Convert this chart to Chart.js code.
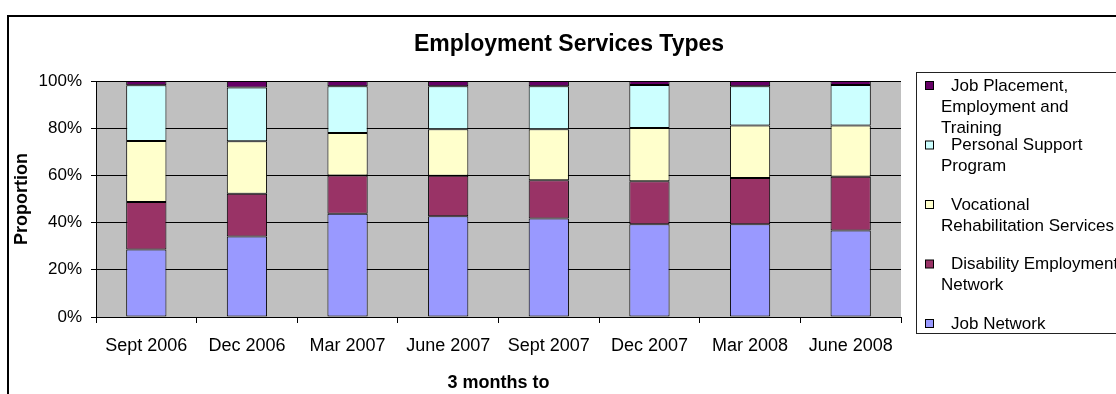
<!DOCTYPE html>
<html>
<head>
<meta charset="utf-8">
<script src="https://cdn.jsdelivr.net/npm/chart.js@4.4.1/dist/chart.umd.min.js"></script>
<style>
  html, body { margin: 0; padding: 0; background: #fff; }
  #wrap { width: 1116px; height: 394px; }
</style>
</head>
<body>
<div id="wrap"><canvas id="servicesChart" width="1116" height="394"></canvas></div>
<script>
// quarters along the x axis
const quarters = ["Sept 2006", "Dec 2006", "Mar 2007", "June 2007", "Sept 2007", "Dec 2007", "Mar 2008", "June 2008"];

// share of each service type (%)
const jobNetwork = [28.6, 34.1, 43.8, 42.7, 41.7, 39.3, 39.3, 36.6];
const disabilityEmployment = [20.1, 18.1, 16.2, 17.2, 16.2, 18.2, 19.6, 22.8];
const vocationalRehab = [25.9, 22.3, 18.0, 19.7, 21.7, 22.6, 22.2, 21.7];
const personalSupport = [23.6, 22.7, 19.8, 18.2, 18.2, 18.2, 16.7, 17.2];
const jobPlacement = [1.8, 2.8, 2.2, 2.2, 2.2, 1.7, 2.2, 1.7];

const seriesNames = [
  "Job Network",
  "Disability Employment Network",
  "Vocational Rehabilitation Services",
  "Personal Support Program",
  "Job Placement, Employment and Training",
];
const seriesColors = ["#9999FF", "#993366", "#FFFFCC", "#CCFFFF", "#660066"];
const yTicks = [0, 20, 40, 60, 80, 100];

const FONT = "'Liberation Sans', Arial, sans-serif";

const allSeries = [jobNetwork, disabilityEmployment, vocationalRehab, personalSupport, jobPlacement];

// grey plot area like the Excel original
const plotBackground = {
  id: "plotBackground",
  beforeDraw(chart) {
    const { ctx, chartArea: a } = chart;
    ctx.save();
    ctx.fillStyle = "#C0C0C0";
    ctx.fillRect(a.left, a.top, a.right - a.left, a.bottom - a.top);
    ctx.restore();
  },
};

// frame, title and the wrapped legend on the right
const decorations = {
  id: "decorations",
  afterDraw(chart) {
    const ctx = chart.ctx;
    ctx.save();
    ctx.strokeStyle = "#000";
    ctx.lineWidth = 2;
    ctx.strokeRect(8, 16, 1300, 600);

    ctx.fillStyle = "#000";
    ctx.font = "bold 23px " + FONT;
    ctx.textAlign = "center";
    ctx.textBaseline = "middle";
    ctx.fillText("Employment Services Types", 569, 45);

    // legend box
    ctx.lineWidth = 1;
    ctx.strokeStyle = "#222";
    ctx.strokeRect(916.5, 72.5, 400, 261);

    ctx.font = "17px " + FONT;
    ctx.textAlign = "left";
    const order = [4, 3, 2, 1, 0];
    order.forEach((si, row) => {
      const y0 = 86 + row * 59.5;
      ctx.fillStyle = seriesColors[si];
      ctx.fillRect(925.5, y0 - 4.5, 8, 8);
      ctx.strokeStyle = "#000";
      ctx.strokeRect(925.5, y0 - 4.5, 8, 8);
      // wrap words, first line indented
      const words = seriesNames[si].split(" ");
      const lines = [];
      let cur = "";
      let startX = 951;
      words.forEach((w) => {
        const test = cur ? cur + " " + w : w;
        if (cur && startX + ctx.measureText(test).width > 1125) {
          lines.push(cur);
          cur = w;
          startX = 941;
        } else {
          cur = test;
        }
      });
      lines.push(cur);
      ctx.fillStyle = "#000";
      lines.forEach((ln, i) => {
        ctx.fillText(ln, i === 0 ? 951 : 941, y0 + i * 21);
      });
    });
    ctx.restore();
  },
};

const ctx = document.getElementById("servicesChart").getContext("2d");
const servicesChart = new Chart(ctx, {
  type: "bar",
  data: {
    labels: quarters,
    datasets: allSeries.map((values, i) => ({
      label: seriesNames[i],
      data: values,
      backgroundColor: seriesColors[i],
      borderColor: "#000",
      borderWidth: 1,
      borderSkipped: false,
      categoryPercentage: 1,
      barPercentage: 0.4,
    })),
  },
  options: {
    responsive: false,
    animation: false,
    devicePixelRatio: 1,
    layout: {
      padding: { left: 0, right: 215, top: 81, bottom: 0 },
    },
    plugins: {
      legend: { display: false },
      title: { display: false },
      tooltip: { enabled: false },
    },
    scales: {
      x: {
        stacked: true,
        grid: {
          offset: true,
          drawOnChartArea: false,
          drawTicks: true,
          tickLength: 6,
          color: "#000",
        },
        border: { color: "#000", width: 1 },
        ticks: {
          color: "#000",
          font: { family: FONT, size: 18 },
          padding: 12,
          maxRotation: 0,
        },
        title: {
          display: true,
          text: "3 months to",
          color: "#000",
          font: { family: FONT, size: 18, weight: "bold" },
          padding: { top: 0, bottom: 0 },
        },
        afterFit(scale) {
          scale.height = 77;
        },
      },
      y: {
        stacked: true,
        min: 0,
        max: 100,
        afterBuildTicks(scale) {
          scale.ticks = yTicks.map((v) => ({ value: v }));
        },
        grid: {
          color: "#000",
          tickLength: 5,
          drawTicks: true,
        },
        border: { color: "#000", width: 1 },
        ticks: {
          color: "#000",
          font: { family: FONT, size: 17 },
          padding: 9,
          callback: (v) => v + "%",
        },
        title: {
          display: true,
          text: "Proportion",
          color: "#000",
          font: { family: FONT, size: 18, weight: "bold" },
          padding: { top: 11, bottom: 0 },
        },
        afterFit(scale) {
          scale.width = 96;
        },
      },
    },
  },
  plugins: [plotBackground, decorations],
});
</script>
</body>
</html>
